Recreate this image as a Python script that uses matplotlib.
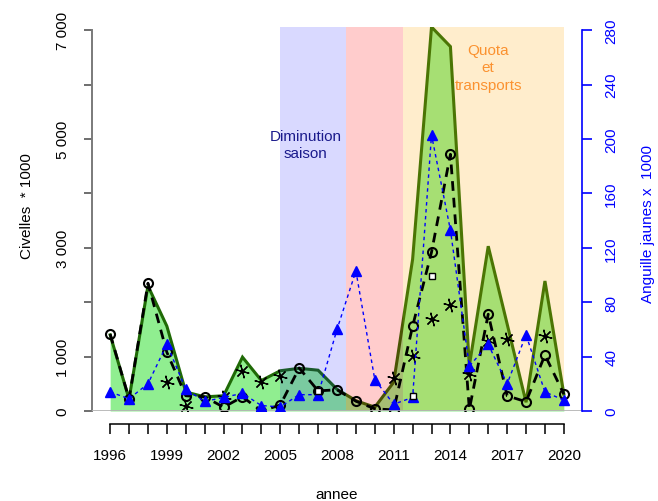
import numpy as np
import matplotlib
matplotlib.use('Agg')
import matplotlib.pyplot as plt

plt.rcParams['font.family'] = ['Liberation Sans', 'DejaVu Sans']
plt.rcParams['font.size'] = 11

# data
annees = np.arange(1996, 2021)
# green area (left axis, civelles * 1000)
civ_total = [1400, 220, 2300, 1560, 350, 260, 280, 990, 560, 740, 785, 750, 400,
             190, 70, 530, 2790, 7060, 6700, 830, 3030, 1600, 160, 2390, 310]
# open circles + dashed line (left axis)
civ_cercles = [1415, 220, 2350, 1080, 280, 260, 70, 260, 0, 110, 790, 370, 390,
               180, 40, 20, 1560, 2920, 4720, 30, 1780, 280, 170, 1030, 310]
# asterisks (left axis), nan where not visible
civ_etoiles = [np.nan, np.nan, np.nan, 530, 90, np.nan, 260, 740, 530, 650, np.nan, np.nan, np.nan,
               np.nan, np.nan, 600, 1020, 1690, 1950, 680, 1290, 1320, np.nan, 1380, np.nan]
# blue triangles (right axis, anguilles jaunes x 1000)
ang_jaunes = [14, 9, 20, 49, 16, 7, 10, 13, 4, 3, 12, 12, 60,
              103, 23, 5, 10, 203, 133, 33, 49, 20, 56, 14, 8]
# small white squares (right axis)
carres_annees = [2007, 2012, 2013]
carres_val = [15, 11, 99]

fig = plt.figure(figsize=(6.58, 5.02), dpi=100)
ax = fig.add_axes([92/658, 1 - 412/502, (582 - 92)/658, (412 - 28)/502])

# green area and its outline
ax.fill_between(annees, 0, civ_total, color='#90ee90', lw=0, zorder=1)
ax.plot(annees, civ_total, color='#1f6a06', lw=2.2, zorder=2, solid_joinstyle='miter')

# periods
ax.axvspan(2005, 2008.5, color='blue', alpha=0.15, lw=0, zorder=3)
ax.axvspan(2008.5, 2011.5, color='red', alpha=0.2, lw=0, zorder=3)
ax.axvspan(2011.5, 2020, color='orange', alpha=0.2, lw=0, zorder=3)

ax.text(2006.35, 4900, 'Diminution\nsaison', color='#1a1a8c', ha='center', va='center',
        linespacing=1.3, zorder=4)
ax.text(2016.0, 6320, 'Quota\net\ntransports', color='#fb9230', ha='center', va='center',
        linespacing=1.3, zorder=4)

# dashed circles and asterisks
ax.plot(annees, civ_cercles, color='black', lw=2, dashes=(3.5, 2.5), zorder=5)
ax.plot(annees, civ_cercles, ls='none', marker='o', ms=6.5, mfc='none', mec='black', mew=1.5, zorder=6)
ax.plot(annees, civ_etoiles, ls='none', marker='o', ms=2.5, mfc='#c8a400', mec='none', zorder=6)
ax.plot(annees, civ_etoiles, ls='none', marker=(6, 2, 15), ms=10, mec='black', mew=0.9, zorder=7)

ax.axhline(0, color='#b4b4b4', lw=2, zorder=8)

ax.set_xlim(1995.04, 2020.96)
ax.set_ylim(0, 7060)
for s in ['top', 'right']:
    ax.spines[s].set_visible(False)
ax.spines['left'].set_bounds(0, 7000)
ax.spines['left'].set_color('#7a7a7a')
ax.spines['left'].set_linewidth(1.4)
ax.spines['bottom'].set_position(('outward', 9.4))
ax.spines['bottom'].set_bounds(1996, 2020)
ax.spines['bottom'].set_linewidth(1.1)

ax.set_xticks(annees)
ax.set_xticklabels([str(a) if (a - 1996) % 3 == 0 else '' for a in annees])
ax.tick_params(axis='x', length=7, width=1.1, pad=10)
ax.set_yticks(range(0, 7001, 1000))
ax.set_yticklabels(['0', '1 000', '', '3 000', '', '5 000', '', '7 000'], rotation=90, va='center')
ax.tick_params(axis='y', length=6, width=1.2, color='#555555', pad=10)

# right axis
ax2 = ax.twinx()
ax2.plot(annees, ang_jaunes, color='blue', lw=1, dashes=(2.5, 2.5), zorder=5)
ax2.plot(annees, ang_jaunes, ls='none', marker='^', ms=7.5, mfc='blue', mec='blue', zorder=6)
ax2.plot(carres_annees, carres_val, ls='none', marker='s', ms=4.5, mfc='white', mec='black', mew=1, zorder=7)
ax2.set_ylim(0, 282.4)
for s in ['top', 'left', 'bottom']:
    ax2.spines[s].set_visible(False)
ax2.spines['right'].set_bounds(0, 280)
ax2.spines['right'].set_color('blue')
ax2.spines['right'].set_linewidth(1.2)
ax2.set_yticks(range(0, 281, 40))
ax2.set_yticklabels([str(v) for v in range(0, 281, 40)], rotation=90, va='center', color='blue')
ax2.tick_params(axis='y', length=7, width=1.2, color='blue', pad=9)

fig.text(27/658, 1 - 206/502, 'Civelles  * 1000', rotation=90, ha='center', va='center')
fig.text(648/658, 1 - 224/502, 'Anguille jaunes x  1000', rotation=90, ha='center', va='center', color='blue')
fig.text(336.5/658, 1 - 495/502, 'annee', ha='center', va='center')

fig.savefig('out.png', dpi=100)
